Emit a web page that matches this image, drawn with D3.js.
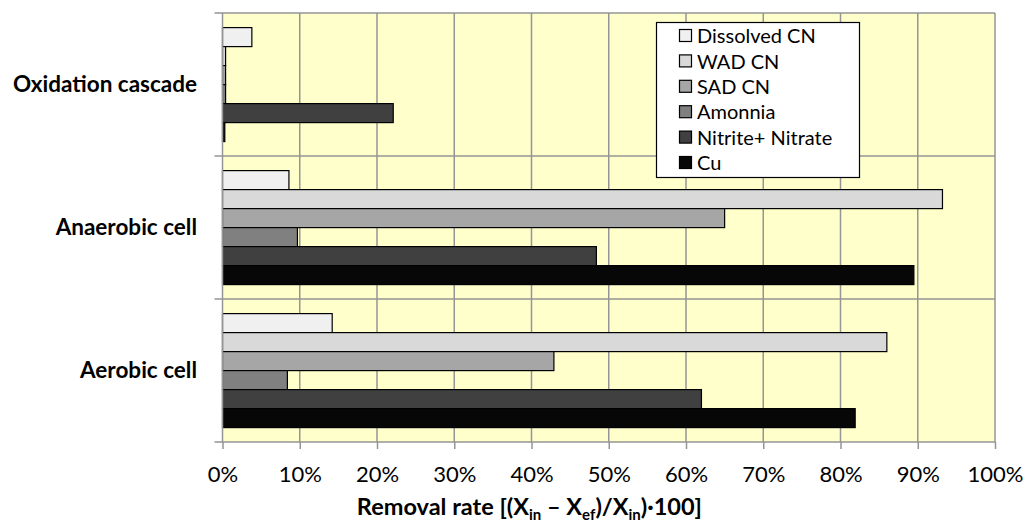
<!DOCTYPE html>
<html><head><meta charset="utf-8">
<script src="https://cdn.jsdelivr.net/npm/d3@7"></script>
<style>body{margin:0;background:#fff}svg{display:block}text{font-family:Lato,"Open Sans",sans-serif}</style>
</head><body>
<script>
const categories = ["Oxidation cascade","Anaerobic cell","Aerobic cell"];
const seriesNames = ["Dissolved CN","WAD CN","SAD CN","Amonnia","Nitrite+ Nitrate","Cu"];
const seriesColors = ["#f0f0f0","#d9d9d9","#a6a6a6","#808080","#404040","#070707"];
const dissolvedCN = [3.8, 8.6, 14.2];
const wadCN = [0.4, 93.2, 86.0];
const sadCN = [0.4, 65.0, 42.9];
const amonnia = [0.4, 9.7, 8.4];
const nitriteNitrate = [22.1, 48.4, 62.0];
const cu = [0.3, 89.5, 81.9];
const xTicks = [0,10,20,30,40,50,60,70,80,90,100];
const seriesValues = [dissolvedCN, wadCN, sadCN, amonnia, nitriteNitrate, cu];

const W = 1026, H = 525;
const m = {left:222.5, right:31, top:13, bottom:83};
const svg = d3.select("body").append("svg").attr("width",W).attr("height",H);
const x = d3.scaleLinear().domain([0,100]).range([m.left, W-m.right]);
const y = d3.scaleBand().domain(categories).range([m.top, H-m.bottom]);
const ys = d3.scaleBand().domain(seriesNames).range([14.6, y.bandwidth()-14.4]);
const grid = "#959595";

svg.append("rect").attr("x",x(0)).attr("y",m.top).attr("width",x(100)-x(0)).attr("height",H-m.bottom-m.top).attr("fill","#ffffcc");

// vertical gridlines
svg.append("g").selectAll("line").data(xTicks.slice(1)).join("line")
  .attr("x1",d=>x(d)).attr("x2",d=>x(d)).attr("y1",m.top).attr("y2",H-m.bottom)
  .attr("stroke",grid).attr("stroke-width",1.5);
// horizontal separators
const bounds = categories.map(c=>y(c)).concat([H-m.bottom]);
svg.append("g").selectAll("line").data(bounds).join("line")
  .attr("x1",x(0)-8).attr("x2",x(100)).attr("y1",d=>d).attr("y2",d=>d)
  .attr("stroke",grid).attr("stroke-width",1.5);

// bars
const g = svg.append("g");
categories.forEach((c,ci)=>{
  seriesNames.forEach((s,si)=>{
    const v = seriesValues[si][ci];
    g.append("rect").attr("x",x(0)).attr("y",y(c)+ys(s)).attr("width",x(v)-x(0)).attr("height",ys.bandwidth())
      .attr("fill",seriesColors[si]).attr("stroke","#000").attr("stroke-width",1.2);
  });
});

// y axis line
svg.append("line").attr("x1",x(0)).attr("x2",x(0)).attr("y1",m.top).attr("y2",H-m.bottom).attr("stroke",grid).attr("stroke-width",1.5);

// x axis
const xa = svg.append("g").attr("transform",`translate(0,${H-m.bottom})`)
  .call(d3.axisBottom(x).tickValues(xTicks).tickFormat(d=>d+"%").tickSize(7));
xa.select(".domain").remove();
xa.selectAll("line").attr("stroke",grid).attr("stroke-width",1.5);
xa.selectAll("text").attr("font-size",22).attr("fill","#000").attr("y",24).attr("dy","0.71em");

// category labels
svg.append("g").selectAll("text").data(categories).join("text")
  .attr("x",197).attr("y",d=>y(d)+y.bandwidth()/2).attr("dy","0.32em")
  .attr("text-anchor","end").attr("font-weight","bold").attr("font-size",22.5).text(d=>d);

// axis title
const t = svg.append("text").attr("x",702).attr("y",515).attr("text-anchor","end")
  .attr("font-weight","bold").attr("font-size",23.5);
t.append("tspan").text("Removal rate [(X");
t.append("tspan").attr("font-size",15).attr("dy",5).text("in");
t.append("tspan").attr("dy",-5).text(" – X");
t.append("tspan").attr("font-size",15).attr("dy",5).text("ef");
t.append("tspan").attr("dy",-5).text(")/X");
t.append("tspan").attr("font-size",15).attr("dy",5).text("in");
t.append("tspan").attr("dy",-5).text(")·100]");

// legend
const lg = svg.append("g");
lg.append("rect").attr("x",656.5).attr("y",22.5).attr("width",203).attr("height",155).attr("fill","#fff").attr("stroke","#000").attr("stroke-width",1.2);
seriesNames.forEach((s,i)=>{
  const cy = 36 + i*25.4;
  lg.append("rect").attr("x",679.5).attr("y",cy-6.5).attr("width",12).attr("height",12).attr("fill",seriesColors[i]).attr("stroke","#000").attr("stroke-width",1.2);
  lg.append("text").attr("x",697).attr("y",cy).attr("dy","0.36em").attr("font-size",20).text(s);
});
</script>
</body></html>
